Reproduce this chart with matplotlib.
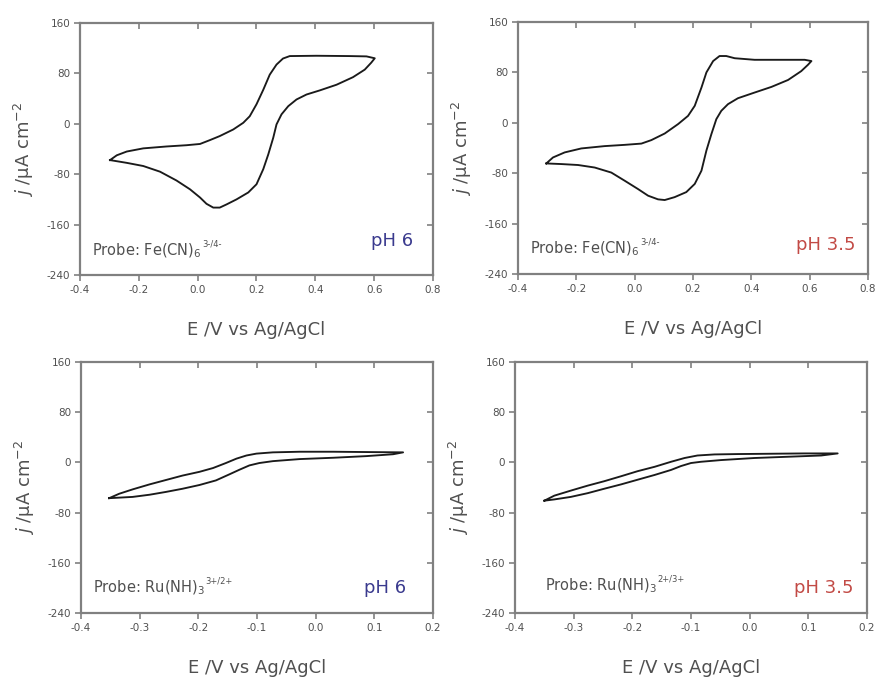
import matplotlib
matplotlib.use("Agg")
import matplotlib.pyplot as plt

plt.rcParams['font.family'] = ['DejaVu Sans']
plt.rcParams['axes.unicode_minus'] = False
plt.rcParams['mathtext.fontset'] = 'dejavusans'

# ---- Fe(CN)6 3-/4- , pH 6 (closed CV loop: forward sweep then return) ----
fe_ph6_E = [-0.298, -0.275, -0.241, -0.185, -0.106, -0.038, 0.008, 0.041, 0.075, 0.121,
            0.155, 0.177, 0.200, 0.223, 0.245, 0.268, 0.290, 0.313, 0.404, 0.517,
            0.574, 0.602,
            0.590, 0.568, 0.528, 0.472, 0.415, 0.370, 0.336, 0.308, 0.285, 0.268,
            0.257, 0.240, 0.223, 0.200, 0.172, 0.132, 0.098, 0.075, 0.053, 0.030,
            0.008, -0.026, -0.072, -0.128, -0.185, -0.241, -0.298]
fe_ph6_j = [-57.6, -50, -44, -39, -36, -34, -32, -26, -19.5, -9,
            1.6, 12, 31, 54, 78, 94, 103.6, 107.5, 108, 107.5,
            107, 104,
            97, 86, 74, 62, 53, 46.5, 38.6, 28, 15, -1,
            -22, -48.6, -72, -96, -109, -120, -128, -133, -133, -127,
            -117, -104, -90, -76, -67, -62, -57.6]

# ---- Fe(CN)6 3-/4- , pH 3.5 ----
fe_ph35_E = [-0.303, -0.280, -0.240, -0.183, -0.103, -0.034, 0.023, 0.057, 0.103, 0.149,
             0.183, 0.206, 0.229, 0.246, 0.269, 0.291, 0.314, 0.343, 0.411, 0.526,
             0.583, 0.606,
             0.594, 0.571, 0.526, 0.469, 0.411, 0.354, 0.320, 0.297, 0.280, 0.263,
             0.246, 0.229, 0.206, 0.177, 0.137, 0.103, 0.080, 0.046, 0.011, -0.034,
             -0.080, -0.137, -0.194, -0.251, -0.303]
fe_ph35_j = [-64.5, -55, -47, -40.7, -37, -35, -33, -27.5, -17, -2,
             11, 27, 56, 80, 98, 106, 106, 102.5, 100, 100,
             100, 98,
             92, 82, 68, 57, 48, 39, 29.6, 19, 5.8, -18,
             -44, -76, -97, -110, -118, -122.6, -121.5, -115.7, -105, -92,
             -79, -71, -67, -65.5, -64.5]

# ---- Ru(NH3)6 3+/2+ , pH 6 ----
ru_ph6_E = [-0.352, -0.335, -0.312, -0.283, -0.255, -0.227, -0.198, -0.175, -0.153, -0.135,
            -0.118, -0.101, -0.073, -0.027, 0.030, 0.086, 0.149,
            0.132, 0.086, 0.030, -0.027, -0.073, -0.096, -0.113, -0.130, -0.147, -0.170,
            -0.198, -0.227, -0.255, -0.283, -0.312, -0.352]
ru_ph6_j = [-57, -50, -43, -35, -28, -21, -15, -9, -1, 6,
            11, 14, 16, 17, 17, 16.5, 16,
            13, 10, 7.4, 5.3, 2, -1, -4.8, -11.7, -19, -28.7,
            -36, -42, -47, -51.5, -55, -57]

# ---- Ru(NH3)6 3+/2+ , pH 3.5 ----
ru_ph35_E = [-0.350, -0.333, -0.305, -0.276, -0.248, -0.219, -0.191, -0.162, -0.134, -0.111,
             -0.089, -0.060, -0.020, 0.036, 0.093, 0.150,
             0.122, 0.065, 0.008, -0.049, -0.083, -0.100, -0.117, -0.134, -0.162, -0.191,
             -0.219, -0.248, -0.276, -0.305, -0.333, -0.350]
ru_ph35_j = [-61, -53, -45, -37, -30, -22, -14, -7, 1, 7,
             11, 12.7, 13.3, 13.8, 14.3, 14.3,
             11, 9, 7, 3.7, 1, -1, -5.8, -12, -20, -27.6,
             -35, -42, -49, -55, -59, -61]

y_ticks = [-240, -160, -80, 0, 80, 160]
x_ticks_fe = [-0.4, -0.2, 0.0, 0.2, 0.4, 0.6, 0.8]
x_ticks_ru = [-0.4, -0.3, -0.2, -0.1, 0.0, 0.1, 0.2]
x_labels_fe = ['-0.4', '-0.2', '0.0', '0.2', '0.4', '0.6', '0.8']
x_labels_ru = ['-0.4', '-0.3', '-0.2', '-0.1', '0.0', '0.1', '0.2']

# probe name (with subscript) and its small charge superscript
probe_fe = r'Probe: Fe(CN)$_6$'
probe_ru = r'Probe: Ru(NH)$_3$'
charge_fe_6 = '3-/4-'
charge_fe_35 = '3-/4-'
charge_ru_6 = '3+/2+'
charge_ru_35 = '2+/3+'

BLUE = '#3a3a8e'
RED = '#c24a45'
SPINE = '#808080'
TXT = '#505050'

fig = plt.figure(figsize=(8.78, 6.8), dpi=100)
W, H = 878, 680


def make_axes(l, t, r, b):
    return fig.add_axes([l / W, 1 - b / H, (r - l) / W, (b - t) / H])


panels = [
    (make_axes(80, 23, 433, 275), fe_ph6_E, fe_ph6_j, x_ticks_fe, (-0.4, 0.8),
     x_labels_fe, probe_fe, charge_fe_6, 'pH 6', BLUE, (0.034, 0.095), (0.945, 0.135)),
    (make_axes(518, 22, 868, 274), fe_ph35_E, fe_ph35_j, x_ticks_fe, (-0.4, 0.8),
     x_labels_fe, probe_fe, charge_fe_35, 'pH 3.5', RED, (0.034, 0.10), (0.963, 0.115)),
    (make_axes(81, 362, 433, 613), ru_ph6_E, ru_ph6_j, x_ticks_ru, (-0.4, 0.2),
     x_labels_ru, probe_ru, charge_ru_6, 'pH 6', BLUE, (0.034, 0.10), (0.925, 0.10)),
    (make_axes(515, 362, 867, 613), ru_ph35_E, ru_ph35_j, x_ticks_ru, (-0.4, 0.2),
     x_labels_ru, probe_ru, charge_ru_35, 'pH 3.5', RED, (0.085, 0.11), (0.963, 0.10)),
]

for ax, E, j, xt, xl, xtl, probe, charge, ph, phc, ppos, phpos in panels:
    ax.plot(E, j, color='#1a1a1a', lw=1.35, solid_joinstyle='round')
    ax.set_xlim(*xl)
    ax.set_ylim(-240, 160)
    ax.set_xticks(xt)
    ax.set_xticklabels(xtl)
    ax.set_yticks(y_ticks)
    ax.set_yticklabels([str(v) for v in y_ticks])
    for s in ax.spines.values():
        s.set_color(SPINE)
        s.set_linewidth(1.6)
    ax.tick_params(axis='both', which='major', direction='out', length=4, width=1.2,
                   color=SPINE, labelsize=7.5, labelcolor=TXT, pad=3,
                   top=True, right=True)
    # outward ticks on bottom/left, inward ticks on top/right
    for tk in ax.xaxis.get_major_ticks():
        tk.tick2line.set_marker(3)
    for tk in ax.yaxis.get_major_ticks():
        tk.tick2line.set_marker(0)
    ax.set_xlabel('E /V vs Ag/AgCl', fontsize=13, color=TXT)
    ax.xaxis.label.set_va('center')
    ax.xaxis.set_label_coords(0.5, -0.22)
    ax.set_ylabel(r'$j$ /μA cm$^{-2}$', fontsize=13, color=TXT)
    ax.yaxis.label.set_va('center')
    ax.yaxis.set_label_coords(-0.16, 0.5)
    ptxt = ax.text(ppos[0], ppos[1], probe, transform=ax.transAxes, fontsize=10.5,
                   color=TXT, ha='left', va='center')
    ax.annotate(charge, xy=(1.0, 0.62), xycoords=ptxt, xytext=(0.5, 0),
                textcoords='offset points', fontsize=6, color=TXT,
                ha='left', va='bottom')
    ax.text(phpos[0], phpos[1], ph, transform=ax.transAxes, fontsize=13,
            color=phc, ha='right', va='center')

fig.savefig('out.png', dpi=100)
